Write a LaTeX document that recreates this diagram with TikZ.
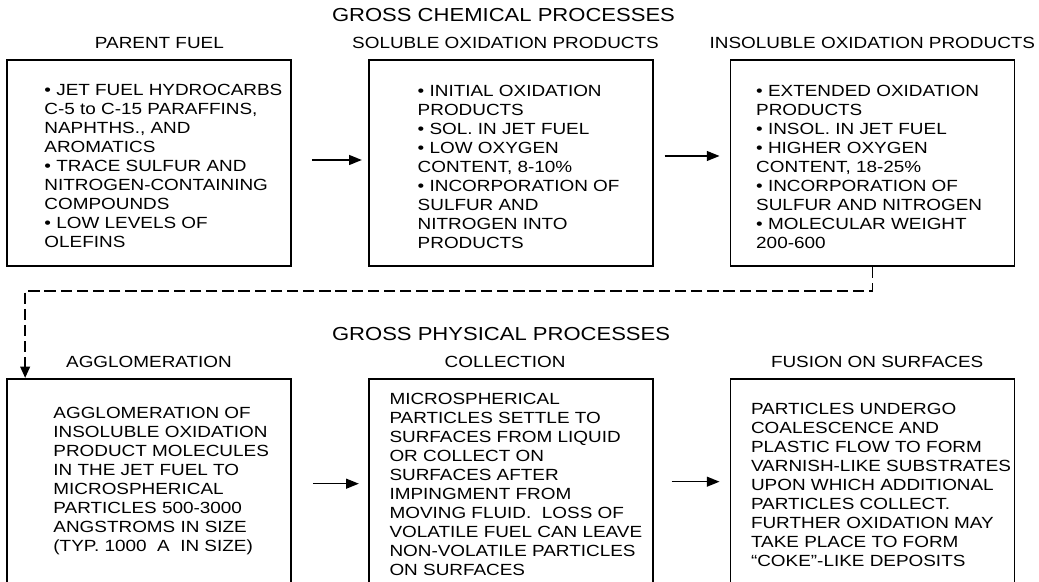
\documentclass[tikz,border=0pt]{standalone}
\usepackage{fontspec}
\setmainfont{Liberation Sans}[FakeStretch=1.17]
\usetikzlibrary{arrows.meta, positioning}
\tikzstyle{procbox} = [rectangle, draw, line width=1.2pt, minimum width=7.1cm, minimum height=5.15cm, inner sep=0pt]
\tikzstyle{boxtext} = [align=left, inner sep=0pt, font=\fontsize{11.5}{13.5}\selectfont]
\tikzstyle{subtitle} = [inner sep=0pt, font=\fontsize{11.5}{13.5}\selectfont]
\tikzstyle{maintitle} = [inner sep=0pt, font=\fontsize{13.4}{16}\selectfont]
\tikzstyle{flow} = [line width=1pt, -{Triangle[length=9pt, width=7pt]}]
\tikzstyle{feed} = [line width=1pt, dash pattern=on 8pt off 3.5pt, -{Triangle[length=8pt, width=7pt]}]

\begin{document}
\begin{tikzpicture}[node distance=1.9cm]

	\useasboundingbox (0,0) rectangle (25.975,14.55);
	\clip (0,0) rectangle (25.975,14.55);

	% Chemical boxes
	\node (fuel_box) [procbox] at (3.725,10.475) {};
	\node (sol_box) [procbox, right=of fuel_box] {};
	\node (insol_box) [procbox, right=of sol_box] {};

	% Physical boxes
	\node (agglom_box) [procbox, minimum height=5.3cm, below=2.775cm of fuel_box] {};
	\node (collect_box) [procbox, minimum height=5.3cm, right=of agglom_box] {};
	\node (fusion_box) [procbox, minimum height=5.3cm, right=of collect_box] {};

	% Titles
	\node (fuel_title) [subtitle, above=0.25cm of fuel_box, xshift=0.26cm] {PARENT FUEL};
	\node (sol_title) [subtitle, above=0.25cm of sol_box, xshift=-0.13cm] {SOLUBLE OXIDATION PRODUCTS};
	\node (insol_title) [subtitle, above=0.25cm of insol_box] {INSOLUBLE OXIDATION PRODUCTS};
	\node (chem_title) [maintitle, above=0.38cm of sol_title, xshift=-0.05cm] {GROSS CHEMICAL PROCESSES};

	\node (agglom_title) [subtitle, above=0.25cm of agglom_box] {AGGLOMERATION};
	\node (collect_title) [subtitle, above=0.25cm of collect_box, xshift=-0.14cm] {COLLECTION};
	\node (fusion_title) [subtitle, above=0.25cm of fusion_box, xshift=0.12cm] {FUSION ON SURFACES};
	\node (phys_title) [maintitle, above=0.375cm of collect_title, xshift=-0.1cm] {GROSS PHYSICAL PROCESSES};

	% Box texts
	\node (fuel_text) [boxtext, below right=0.625cm and 0.95cm of fuel_box.north west] {%
		• JET FUEL HYDROCARBS\\
		C-5 to C-15 PARAFFINS,\\
		NAPHTHS., AND\\
		AROMATICS\\
		• TRACE SULFUR AND\\
		NITROGEN-CONTAINING\\
		COMPOUNDS\\
		• LOW LEVELS OF\\
		OLEFINS};
	\node (sol_text) [boxtext, below right=0.65cm and 1.24cm of sol_box.north west] {%
		• INITIAL OXIDATION\\
		PRODUCTS\\
		• SOL. IN JET FUEL\\
		• LOW OXYGEN\\
		CONTENT, 8-10\%\\
		• INCORPORATION OF\\
		SULFUR AND\\
		NITROGEN INTO\\
		PRODUCTS};
	\node (insol_text) [boxtext, below right=0.65cm and 0.66cm of insol_box.north west] {%
		• EXTENDED OXIDATION\\
		PRODUCTS\\
		• INSOL. IN JET FUEL\\
		• HIGHER OXYGEN\\
		CONTENT, 18-25\%\\
		• INCORPORATION OF\\
		SULFUR AND NITROGEN\\
		• MOLECULAR WEIGHT\\
		200-600};
	\node (agglom_text) [boxtext, below right=0.725cm and 1.175cm of agglom_box.north west] {%
		AGGLOMERATION OF\\
		INSOLUBLE OXIDATION\\
		PRODUCT MOLECULES\\
		IN THE JET FUEL TO\\
		MICROSPHERICAL\\
		PARTICLES 500-3000\\
		ANGSTROMS IN SIZE\\
		(TYP. 1000~ A~ IN SIZE)};
	\node (collect_text) [boxtext, below right=0.38cm and 0.535cm of collect_box.north west] {%
		MICROSPHERICAL\\
		PARTICLES SETTLE TO\\
		SURFACES FROM LIQUID\\
		OR COLLECT ON\\
		SURFACES AFTER\\
		IMPINGMENT FROM\\
		MOVING FLUID.~ LOSS OF\\
		VOLATILE FUEL CAN LEAVE\\
		NON-VOLATILE PARTICLES\\
		ON SURFACES};
	\node (fusion_text) [boxtext, below right=0.62cm and 0.53cm of fusion_box.north west] {%
		PARTICLES UNDERGO\\
		COALESCENCE AND\\
		PLASTIC FLOW TO FORM\\
		VARNISH-LIKE SUBSTRATES\\
		UPON WHICH ADDITIONAL\\
		PARTICLES COLLECT.\\
		FURTHER OXIDATION MAY\\
		TAKE PLACE TO FORM\\
		“COKE”-LIKE DEPOSITS};

	% Arrows
	\draw[flow] ([xshift=0.5cm, yshift=0.075cm]fuel_box.east) -- ([xshift=-0.15cm, yshift=0.075cm]sol_box.west);
	\draw[flow] ([xshift=0.275cm, yshift=0.175cm]sol_box.east) -- ([xshift=-0.25cm, yshift=0.175cm]insol_box.west);
	\draw[flow] ([xshift=0.525cm, yshift=0.025cm]agglom_box.east) -- ([xshift=-0.225cm, yshift=0.025cm]collect_box.west);
	\draw[flow] ([xshift=0.45cm, yshift=0.075cm]collect_box.east) -- ([xshift=-0.25cm, yshift=0.075cm]fusion_box.west);

	\draw[feed] (insol_box.south) -- ++(0,-0.6) -| ([xshift=0.475cm]agglom_box.north west);

\end{tikzpicture}
\end{document}
